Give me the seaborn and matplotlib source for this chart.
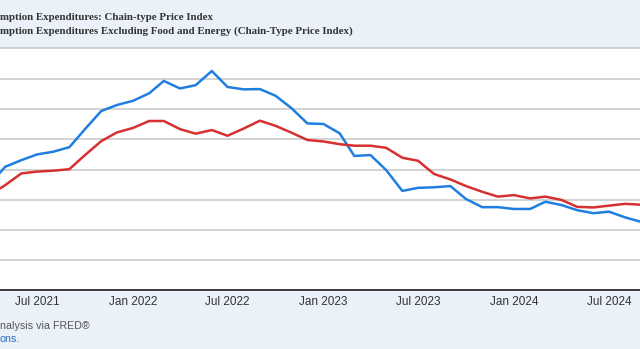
import matplotlib
matplotlib.use("Agg")
import matplotlib.pyplot as plt
import matplotlib.dates as mdates
from matplotlib.lines import Line2D
import seaborn as sns
import pandas as pd

# ---- data (percent change from year ago) ----
dates = pd.date_range("2021-04-01", "2024-09-01", freq="MS")
pce = [3.50, 4.09, 4.31, 4.50, 4.59, 4.74, 5.34, 5.94, 6.14,
       6.28, 6.53, 6.94, 6.69, 6.80, 7.27, 6.74, 6.66, 6.67, 6.45, 6.03, 5.53,
       5.51, 5.20, 4.45, 4.48, 3.98, 3.29, 3.39, 3.41, 3.45, 3.02, 2.75, 2.75,
       2.69, 2.69, 2.93, 2.82, 2.65, 2.55, 2.60, 2.41, 2.26]
core = [3.15, 3.48, 3.87, 3.93, 3.96, 4.01, 4.48, 4.94, 5.23,
        5.38, 5.61, 5.61, 5.34, 5.19, 5.31, 5.12, 5.36, 5.62, 5.45, 5.22, 4.98,
        4.93, 4.84, 4.79, 4.79, 4.72, 4.39, 4.29, 3.85, 3.67, 3.45, 3.26, 3.10,
        3.15, 3.04, 3.10, 2.99, 2.76, 2.74, 2.80, 2.86, 2.83]
series_names = ["Personal Consumption Expenditures: Chain-type Price Index",
                "Personal Consumption Expenditures Excluding Food and Energy (Chain-Type Price Index)"]
legend_labels = ["mption Expenditures: Chain-type Price Index",
                 "mption Expenditures Excluding Food and Energy (Chain-Type Price Index)"]
tick_dates = ["2021-07-01", "2022-01-01", "2022-07-01", "2023-01-01",
              "2023-07-01", "2024-01-01", "2024-07-01"]
tick_labels = ["Jul 2021", "Jan 2022", "Jul 2022", "Jan 2023",
               "Jul 2023", "Jan 2024", "Jul 2024"]
footer_lines = ["nalysis via FRED®", "ons."]

df = pd.concat([
    pd.DataFrame({"date": dates, "value": pce, "series": series_names[0]}),
    pd.DataFrame({"date": dates, "value": core, "series": series_names[1]}),
])

BLUE = "#1f7fe0"
RED = "#d63031"
BG = "#eaf1f9"

sns.set_style("white")
W, H = 640, 349
fig = plt.figure(figsize=(W / 100, H / 100), dpi=100)
fig.patch.set_facecolor(BG)

top_px, bot_px = 49, 290
ax = fig.add_axes([0, 1 - bot_px / H, 1, (bot_px - top_px) / H])
ax.set_facecolor("white")

sns.lineplot(data=df, x="date", y="value", hue="series",
             palette=[BLUE, RED], linewidth=1.8, legend=False, ax=ax)

# x range (left part of the chart is cropped off)
px_per_day = 572 / 1096
d0 = mdates.date2num(pd.Timestamp("2021-07-01")) - 37 / px_per_day
d1 = mdates.date2num(pd.Timestamp("2024-07-01")) + 31 / px_per_day
ax.set_xlim(d0, d1)
ax.set_ylim(0, 8)

ax.set_yticks(range(1, 8))
ax.set_yticklabels([])
ax.tick_params(axis="y", length=0)
ax.yaxis.grid(True, color="#cccccc", linewidth=1.2)
ax.xaxis.grid(False)

ax.set_xticks([mdates.date2num(pd.Timestamp(d)) for d in tick_dates])
ax.set_xticklabels(tick_labels, fontsize=8.5, color="#333333",
                   family="Liberation Sans")
ax.tick_params(axis="x", direction="out", length=5, width=1,
               color="#c9d5e2", pad=-0.5)
ax.set_xlabel("")
ax.set_ylabel("")
for s in ("left", "right", "top"):
    ax.spines[s].set_visible(False)
ax.spines["bottom"].set_color("#2b2b2b")
ax.spines["bottom"].set_linewidth(1.3)

# header separator line
fig.add_artist(Line2D([0, 1], [1 - 48 / H, 1 - 48 / H], color="#c8ccd0",
                      linewidth=1.2, transform=fig.transFigure))

# legend text (cropped legend)
for lab, yp in zip(legend_labels, [17, 31]):
    fig.text(0, 1 - yp / H, lab, family="Liberation Serif", weight="bold",
             fontsize=7.8, color="#333333", va="center", ha="left")

# footer
fig.text(0, 1 - 326 / H, footer_lines[0], family="Liberation Sans",
         fontsize=7.7, color="#555555", va="center", ha="left")
fig.text(0, 1 - 339 / H, footer_lines[1], family="Liberation Sans",
         fontsize=7.7, color="#2a6ebb", va="center", ha="left")

fig.savefig("out.png", dpi=100, facecolor=BG)
